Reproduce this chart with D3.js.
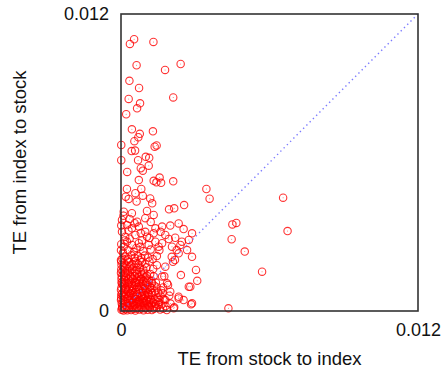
<!doctype html>
<html lang="en">
<head>
    <meta charset="UTF-8">
    <title>TE scatter</title>
    <style>
        body { margin: 0; background: #fff; }
        svg text { font-family: "Liberation Sans", Arial, sans-serif; fill: #111; }
    </style>
</head>
<body>
<div class="svg"></div>
<script src="https://d3js.org/d3.v7.min.js"></script>
<script>
  // values in units of 1e-3: [TE stock->index, TE index->stock]
  const tePairs = [
    [0.53, 10.98], [0.36, 10.79], [1.31, 10.87], [0.63, 9.93], [2.41, 9.98], [1.78, 9.74],
    [0.34, 9.30], [0.73, 9.01], [0.31, 8.57], [0.77, 8.39], [0.65, 8.19], [2.11, 8.63],
    [0.21, 7.95], [0.44, 7.34], [1.29, 7.26], [0.76, 7.16], [0.70, 7.02], [0.54, 6.86],
    [0.01, 6.71], [1.44, 6.69], [1.36, 6.64], [0.43, 6.46], [0.57, 6.48], [0.01, 6.09],
    [0.69, 6.09], [1.00, 6.23], [1.14, 6.19], [1.12, 5.87], [0.80, 5.77], [0.88, 5.67],
    [0.25, 5.62], [1.56, 5.39], [1.32, 5.26], [1.62, 5.18], [1.43, 5.20], [2.11, 5.24],
    [0.72, 5.29], [0.24, 4.93], [0.82, 4.93], [0.58, 4.76], [0.19, 4.62], [0.88, 4.66],
    [1.18, 4.55], [1.26, 4.35], [0.63, 4.42], [0.31, 4.53], [3.45, 4.93], [3.58, 4.54],
    [1.94, 4.11], [2.15, 4.15], [2.55, 4.28], [0.11, 4.01], [0.44, 3.95], [1.05, 4.04],
    [1.32, 3.88], [0.98, 3.75], [0.65, 3.61], [6.55, 4.58], [4.50, 3.50], [4.66, 3.56],
    [6.73, 3.23], [4.47, 2.90], [5.00, 2.40], [5.70, 1.59], [4.34, 0.11], [0.04, 3.68],
    [0.24, 3.47], [0.44, 3.34], [0.72, 3.41], [0.98, 3.20], [1.39, 3.34], [1.66, 3.41],
    [1.99, 3.45], [2.33, 3.54], [2.53, 3.31], [2.87, 3.14], [2.74, 2.87], [0.04, 3.20],
    [0.17, 3.00], [0.58, 3.07], [1.05, 3.00], [1.32, 3.14], [1.79, 3.07], [1.93, 2.91],
    [2.19, 2.96], [2.46, 2.80], [0.11, 2.60], [0.44, 2.67], [0.78, 2.60], [1.12, 2.67],
    [1.52, 2.60], [2.06, 2.60], [2.67, 2.46], [0.24, 2.80], [0.72, 2.74], [1.39, 2.80],
    [1.66, 2.74], [2.40, 2.67], [2.33, 2.33], [2.87, 2.19], [2.10, 1.99], [1.79, 1.79],
    [3.03, 1.66], [2.42, 1.45], [3.08, 1.22], [2.74, 0.98], [2.80, 0.98], [2.33, 0.51],
    [2.53, 0.44], [2.87, 0.31], [2.13, 0.11], [1.66, 1.39], [1.86, 1.12], [1.99, 0.78],
    [1.79, 0.44], [1.52, 0.24], [1.12, 0.17], [0.92, 0.31], [0.31, 0.11], [0.04, 0.11],
    [0.00, 2.06], [0.00, 1.54], [0.00, 0.85], [0.00, 0.44], [2.05, 2.19], [2.18, 2.06],
    [2.25, 2.46], [2.83, 0.27], [2.33, 0.58],
    [0.02, 0.05], [0.10, 0.02], [0.18, 0.08], [0.25, 0.03], [0.33, 0.12], [0.41, 0.04],
    [0.50, 0.09], [0.58, 0.02], [0.66, 0.14], [0.74, 0.06], [0.83, 0.10], [0.91, 0.03],
    [1.00, 0.12], [1.08, 0.05], [1.17, 0.15], [1.25, 0.04], [1.33, 0.09], [1.45, 0.13],
    [1.58, 0.06], [1.70, 0.10], [1.85, 0.04], [0.05, 0.22], [0.14, 0.28], [0.22, 0.19],
    [0.30, 0.31], [0.38, 0.24], [0.47, 0.33], [0.55, 0.21], [0.63, 0.29], [0.71, 0.36],
    [0.80, 0.25], [0.88, 0.34], [0.96, 0.22], [1.05, 0.30], [1.14, 0.38], [1.22, 0.26],
    [1.30, 0.33], [1.40, 0.29], [1.52, 0.36], [1.63, 0.27],
    [0.01, 0.52], [0.08, 0.45], [0.16, 0.58], [0.24, 0.48], [0.31, 0.62], [0.39, 0.51],
    [0.46, 0.44], [0.54, 0.60], [0.61, 0.49], [0.69, 0.57], [0.77, 0.46], [0.85, 0.63],
    [0.93, 0.52], [1.02, 0.44], [1.10, 0.58], [1.19, 0.50], [1.27, 0.65], [1.36, 0.47],
    [1.48, 0.55], [1.60, 0.62], [1.72, 0.48], [0.04, 0.71], [0.12, 0.78], [0.20, 0.68],
    [0.28, 0.80], [0.36, 0.73], [0.44, 0.82], [0.52, 0.70], [0.60, 0.77], [0.68, 0.85],
    [0.76, 0.72], [0.84, 0.79], [0.92, 0.70], [1.00, 0.83], [1.09, 0.75], [1.18, 0.86],
    [1.26, 0.72], [1.38, 0.80], [1.50, 0.74], [1.62, 0.84],
    [0.02, 0.95], [0.10, 1.02], [0.18, 0.92], [0.26, 1.06], [0.34, 0.97], [0.42, 1.10],
    [0.50, 0.94], [0.58, 1.04], [0.66, 0.96], [0.74, 1.12], [0.82, 1.00], [0.90, 1.08],
    [0.98, 0.93], [1.07, 1.05], [1.16, 0.98], [1.25, 1.13], [1.35, 1.02], [1.46, 0.95],
    [0.06, 1.18], [0.14, 1.25], [0.22, 1.15], [0.30, 1.28], [0.39, 1.20], [0.48, 1.30],
    [0.56, 1.17], [0.64, 1.26], [0.73, 1.19], [0.81, 1.31], [0.90, 1.22], [1.00, 1.16],
    [1.12, 1.27], [1.23, 1.21],
    [0.03, 1.40], [0.11, 1.47], [0.20, 1.38], [0.28, 1.52], [0.37, 1.43], [0.46, 1.56],
    [0.55, 1.41], [0.64, 1.50], [0.73, 1.38], [0.83, 1.48], [0.94, 1.55], [1.05, 1.42],
    [1.18, 1.50], [0.07, 1.64], [0.16, 1.72], [0.25, 1.62], [0.34, 1.76], [0.44, 1.67],
    [0.54, 1.79], [0.65, 1.66], [0.77, 1.74], [0.90, 1.68], [1.03, 1.77],
    [0.02, 1.86], [0.12, 1.93], [0.22, 1.84], [0.33, 1.98], [0.45, 1.90], [0.58, 2.02],
    [0.70, 1.88], [0.84, 1.97], [0.98, 1.91], [1.15, 2.00], [0.06, 2.12], [0.18, 2.20],
    [0.30, 2.10], [0.42, 2.25], [0.55, 2.15], [0.68, 2.22], [0.82, 2.13], [0.96, 2.24],
    [1.10, 2.16], [1.28, 2.10], [1.45, 2.22],
    [0.08, 2.35], [0.30, 2.45], [0.52, 2.38], [0.62, 2.55], [0.90, 2.42], [1.20, 2.48],
    [0.15, 2.85], [0.35, 2.92], [0.85, 2.85], [1.15, 2.95], [0.00, 2.45], [0.01, 2.70],
    [0.01, 3.45], [0.30, 3.25], [0.55, 3.55], [0.80, 3.15], [1.20, 3.60], [0.10, 3.85],
    [0.35, 3.72], [1.60, 3.20], [1.55, 2.45], [1.45, 1.85], [1.30, 1.70], [1.75, 1.40],
    [1.90, 1.05], [1.70, 0.95], [2.00, 0.30], [1.95, 0.62], [1.80, 0.20], [2.15, 0.15],
    [0.06, 0.15], [0.15, 0.40], [0.27, 0.17], [0.35, 0.45], [0.45, 0.16], [0.52, 0.38],
    [0.62, 0.10], [0.70, 0.42], [0.78, 0.18], [0.87, 0.48], [0.95, 0.12], [1.04, 0.40],
    [1.13, 0.22], [1.21, 0.45], [0.09, 0.62], [0.19, 0.86], [0.32, 0.88], [0.41, 0.66],
    [0.49, 0.86], [0.57, 0.55], [0.65, 0.68], [0.73, 0.90], [0.81, 0.58], [0.89, 0.88],
    [0.97, 0.64], [1.06, 0.90], [1.14, 0.66], [1.23, 0.92], [0.05, 1.08], [0.15, 1.12],
    [0.31, 1.15], [0.45, 1.02], [0.61, 1.14], [0.78, 1.24], [0.94, 1.02], [1.06, 1.20],
    [0.02, 1.30], [0.18, 1.55], [0.41, 1.35], [0.59, 1.60], [0.80, 1.58], [0.99, 1.36],
    [0.10, 1.80], [0.38, 1.84], [0.62, 1.92], [0.01, 2.00], [0.24, 2.04], [0.78, 2.05],
    [0.03, 0.30], [0.01, 0.65], [0.02, 1.15], [0.01, 1.68], [1.38, 0.18], [1.55, 0.45],
    [1.68, 0.72], [1.41, 1.15], [1.32, 1.40], [0.50, 0.25], [0.28, 0.55], [0.72, 0.30]
  ]
  const tickValues = [0, 0.012]
  const tickLabels = ['0', '0.012']
  const diagonal = [0, 0.012]
  const xTitle = 'TE from stock to index'
  const yTitle = 'TE from index to stock'

  const width = 445
  const height = 369
  const plot = { left: 121, right: 418, top: 14, bottom: 311 }

  const x = d3.scaleLinear().domain([0, 0.012]).range([plot.left, plot.right])
  const y = d3.scaleLinear().domain([0, 0.012]).range([plot.bottom, plot.top])

  const svg = d3.select('.svg')
    .append('svg')
    .attr('width', width)
    .attr('height', height)

  const dots = svg.append('g')
  dots.selectAll('circle.dot')
    .data(tePairs)
    .enter()
    .append('circle')
    .attr('class', 'dot')
    .attr('cx', d => x(d[0] * 1e-3))
    .attr('cy', d => y(d[1] * 1e-3))
    .attr('r', 3.7)
    .attr('fill', 'none')
    .attr('stroke', '#ff0000')
    .attr('stroke-opacity', 0.8)
    .attr('stroke-width', 1.1)

  dots.selectAll('circle.centre')
    .data(tePairs)
    .enter()
    .append('circle')
    .attr('class', 'centre')
    .attr('cx', d => x(d[0] * 1e-3))
    .attr('cy', d => y(d[1] * 1e-3))
    .attr('r', 0.5)
    .attr('fill', '#ff0000')
    .attr('fill-opacity', 0.6)

  svg.append('line')
    .attr('x1', x(diagonal[0]))
    .attr('y1', y(diagonal[0]))
    .attr('x2', x(diagonal[1]))
    .attr('y2', y(diagonal[1]))
    .attr('stroke', '#7b7bff')
    .attr('stroke-width', 1.4)
    .attr('stroke-dasharray', '1.4,3.2')

  // frame
  svg.append('rect')
    .attr('x', plot.left)
    .attr('y', plot.top)
    .attr('width', plot.right - plot.left)
    .attr('height', plot.bottom - plot.top)
    .attr('fill', 'none')
    .attr('stroke', '#333')
    .attr('stroke-width', 1.6)

  const xAxis = d3.axisBottom(x).tickValues(tickValues).tickSize(0)
    .tickFormat((d, i) => tickLabels[i])
  const yAxis = d3.axisLeft(y).tickValues(tickValues).tickSize(0)
    .tickFormat((d, i) => tickLabels[i])

  const gx = svg.append('g')
    .attr('transform', `translate(0, ${plot.bottom})`)
    .call(xAxis)
  gx.select('.domain').remove()
  gx.selectAll('text')
    .attr('y', 12)
    .attr('dy', '0.71em')
    .style('font-size', '18px')
    .style('font-family', '"Liberation Sans", Arial, sans-serif')
    .attr('fill', '#111')

  const gy = svg.append('g')
    .attr('transform', `translate(${plot.left}, 0)`)
    .call(yAxis)
  gy.select('.domain').remove()
  gy.selectAll('text')
    .attr('x', -12)
    .style('font-size', '18px')
    .style('font-family', '"Liberation Sans", Arial, sans-serif')
    .attr('fill', '#111')

  svg.append('text')
    .attr('x', (plot.left + plot.right) / 2)
    .attr('y', 365)
    .attr('text-anchor', 'middle')
    .style('font-size', '18.5px')
    .text(xTitle)

  svg.append('text')
    .attr('transform', `translate(26, ${(plot.top + plot.bottom) / 2}) rotate(-90)`)
    .attr('text-anchor', 'middle')
    .style('font-size', '18.5px')
    .text(yTitle)
</script>
</body>
</html>
